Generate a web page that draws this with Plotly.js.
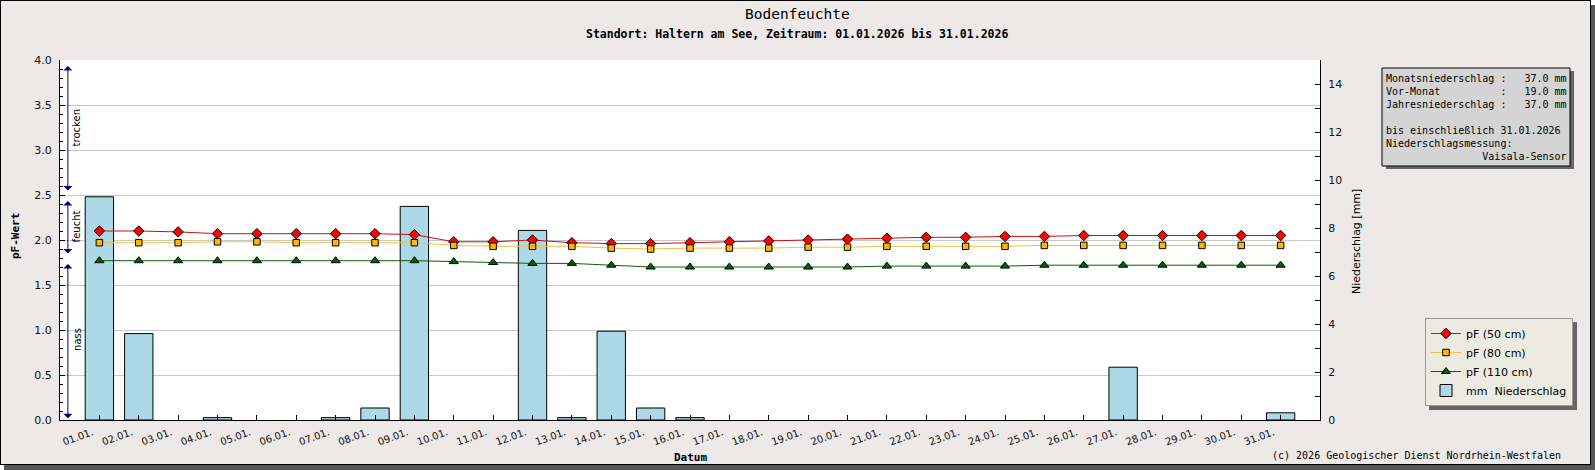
<!DOCTYPE html>
<html>
<head>
<meta charset="utf-8">
<script src="https://cdn.plot.ly/plotly-3.0.1.min.js"></script>
<style>
    body { margin: 0; background: #ffffff; }
    #frame {
        position: absolute; left: 0; top: 0;
        width: 1589px; height: 463px;
        border: 1px solid #000;
        background: #ece9e8;
        box-shadow: 4px 5px 0 #575757;
    }
    #chart { position: absolute; left: 0; top: 0; width: 1595px; height: 470px; }
</style>
</head>
<body>
<div id="frame"></div>
<div id="chart"></div>
<script>
let dateLabels = ['01.01.', '02.01.', '03.01.', '04.01.', '05.01.', '06.01.', '07.01.', '08.01.',
    '09.01.', '10.01.', '11.01.', '12.01.', '13.01.', '14.01.', '15.01.', '16.01.', '17.01.',
    '18.01.', '19.01.', '20.01.', '21.01.', '22.01.', '23.01.', '24.01.', '25.01.', '26.01.',
    '27.01.', '28.01.', '29.01.', '30.01.', '31.01.'];

// pF values per depth
let pf50 = [2.10, 2.10, 2.09, 2.07, 2.07, 2.07, 2.07, 2.07, 2.06, 1.98, 1.98, 2.00, 1.97, 1.96,
    1.96, 1.97, 1.98, 1.99, 2.00, 2.01, 2.02, 2.03, 2.03, 2.04, 2.04, 2.05, 2.05, 2.05, 2.05, 2.05, 2.05];
let pf80 = [1.97, 1.97, 1.97, 1.98, 1.98, 1.97, 1.97, 1.97, 1.97, 1.94, 1.93, 1.93, 1.93, 1.91,
    1.90, 1.91, 1.91, 1.91, 1.92, 1.92, 1.93, 1.93, 1.93, 1.93, 1.94, 1.94, 1.94, 1.94, 1.94, 1.94, 1.94];
let pf110 = [1.77, 1.77, 1.77, 1.77, 1.77, 1.77, 1.77, 1.77, 1.77, 1.76, 1.75, 1.74, 1.74, 1.72,
    1.70, 1.70, 1.70, 1.70, 1.70, 1.70, 1.71, 1.71, 1.71, 1.71, 1.72, 1.72, 1.72, 1.72, 1.72, 1.72, 1.72];

// daily precipitation in mm
let precip = [9.3, 3.6, 0, 0.1, 0, 0, 0.1, 0.5, 8.9, 0, 0, 7.9, 0.1, 3.7, 0.5, 0.1, 0, 0, 0, 0,
    0, 0, 0, 0, 0, 0, 2.2, 0, 0, 0, 0.3];

// moisture zones on the pF axis
let zoneLabels = ['nass', 'feucht', 'trocken'];
let zoneBounds = [0, 1.8, 2.5, 4.0];

let infoLines = [
    'Monatsniederschlag :   37.0 mm',
    'Vor-Monat          :   19.0 mm',
    'Jahresniederschlag :   37.0 mm',
    '',
    'bis einschließlich 31.01.2026',
    'Niederschlagsmessung:',
    '                Vaisala-Sensor'
];

let mono = 'DejaVu Sans Mono, Liberation Mono, monospace';
let sans = 'DejaVu Sans, sans-serif';

// plot area in page pixels, used to place things outside it
let plotL = 60, plotR = 1320, plotT = 60, plotB = 420;

function px(x) {
    return (x - plotL) / (plotR - plotL);
}

function py(y) {
    return (plotB - y) / (plotB - plotT);
}

function nbsp(s) {
    return s.replace(/ /g, '\u00a0');
}

let data = [
    {
        x: dateLabels, y: pf50, yaxis: 'y2', type: 'scatter', mode: 'lines+markers',
        name: 'pF (50 cm)',
        line: { color: '#cc1010', width: 1 },
        marker: { symbol: 'diamond', size: 8, color: '#ff0000', line: { color: '#000', width: 1 } }
    },
    {
        x: dateLabels, y: pf80, yaxis: 'y2', type: 'scatter', mode: 'lines+markers',
        name: 'pF (80 cm)',
        line: { color: '#f0c040', width: 1 },
        marker: { symbol: 'square', size: 6.5, color: '#ffb600', line: { color: '#000', width: 1 } }
    },
    {
        x: dateLabels, y: pf110, yaxis: 'y2', type: 'scatter', mode: 'lines+markers',
        name: 'pF (110 cm)',
        line: { color: '#0b5e0b', width: 1 },
        marker: { symbol: 'triangle-up', size: 8, color: '#006400', line: { color: '#000', width: 1 } }
    },
    {
        x: dateLabels, y: precip, yaxis: 'y', type: 'bar', width: 0.72,
        name: nbsp('mm  Niederschlag'),
        marker: {
            color: '#add8e6',
            line: { color: '#000', width: precip.map(v => v > 0 ? 1 : 0) }
        }
    }
];

let annotations = [
    { text: 'Bodenfeuchte', xref: 'paper', yref: 'paper', x: px(797), y: py(14),
        xanchor: 'center', yanchor: 'middle',
        showarrow: false, font: { family: mono, size: 14.5, color: '#000' } },
    { text: '<b>Standort: Haltern am See, Zeitraum: 01.01.2026 bis 31.01.2026</b>',
        xref: 'paper', yref: 'paper', x: px(797), y: py(34), xanchor: 'center', yanchor: 'middle',
        showarrow: false, font: { family: mono, size: 11.5, color: '#000' } },
    { text: '<b>pF-Wert</b>', xref: 'paper', yref: 'paper', x: px(15), y: py(236), textangle: -90,
        xanchor: 'center', yanchor: 'middle',
        showarrow: false, font: { family: mono, size: 11, color: '#000' } },
    { text: 'Niederschlag [mm]', xref: 'paper', yref: 'paper', x: px(1356), y: py(241), textangle: -90,
        xanchor: 'center', yanchor: 'middle',
        showarrow: false, font: { family: sans, size: 11, color: '#000' } },
    { text: '<b>Datum</b>', xref: 'paper', yref: 'paper', x: px(690), y: py(457),
        xanchor: 'center', yanchor: 'middle',
        showarrow: false, font: { family: mono, size: 11, color: '#000' } },
    { text: '(c) 2026 Geologischer Dienst Nordrhein-Westfalen', xref: 'paper', yref: 'paper',
        x: px(1563), y: py(455), xanchor: 'right', yanchor: 'middle', showarrow: false,
        font: { family: mono, size: 10, color: '#000' } },
    { text: infoLines.map(nbsp).join('<br>'), xref: 'paper', yref: 'paper',
        x: px(1385), y: py(72), xanchor: 'left', yanchor: 'top', align: 'left', borderpad: 0,
        showarrow: false, font: { family: mono, size: 10, color: '#000' } }
];

// zone arrows and labels beside the pF axis
for (let i = 0; i < zoneLabels.length; i++) {
    let lo = zoneBounds[i];
    let hi = zoneBounds[i + 1];

    annotations.push({
        text: '', x: -0.8, y: lo + (i === 0 ? 0.02 : 0.05), ax: -0.8, ay: hi - 0.05,
        xref: 'x', yref: 'y2', axref: 'x', ayref: 'y2',
        showarrow: true, arrowside: 'end+start', arrowhead: 1, startarrowhead: 1,
        arrowsize: 1.5, startarrowsize: 1.5, arrowwidth: 1, arrowcolor: '#000080',
        standoff: 0, startstandoff: 0
    });
    annotations.push({
        text: zoneLabels[i], x: -0.8, xshift: 9, y: (lo + hi) / 2, xref: 'x', yref: 'y2',
        xanchor: 'center', yanchor: 'middle',
        textangle: -90, showarrow: false, font: { family: sans, size: 10, color: '#000' }
    });
}

let shapes = [
    // info box with shadow
    { type: 'rect', xref: 'paper', yref: 'paper', x0: px(1386), x1: px(1574), y0: py(71), y1: py(169),
        fillcolor: '#666', line: { width: 0 }, layer: 'below' },
    { type: 'rect', xref: 'paper', yref: 'paper', x0: px(1382), x1: px(1570), y0: py(68), y1: py(166),
        fillcolor: '#d4d4d4', line: { color: '#000', width: 1 }, layer: 'below' },
    // legend shadow
    { type: 'rect', xref: 'paper', yref: 'paper', x0: px(1429), x1: px(1577), y0: py(322), y1: py(410),
        fillcolor: '#666', line: { width: 0 }, layer: 'below' }
];

let layout = {
    width: 1595,
    height: 470,
    margin: { l: plotL, r: 1595 - plotR, t: plotT, b: 470 - plotB, pad: 0 },
    paper_bgcolor: 'rgba(0,0,0,0)',
    plot_bgcolor: '#ffffff',
    showlegend: true,
    bargap: 0,
    xaxis: {
        type: 'category',
        range: [-1, 31],
        ticks: 'inside', ticklen: 5, tickcolor: '#000',
        showline: true, linecolor: '#000', linewidth: 1,
        showgrid: false, zeroline: false,
        tickangle: -20,
        ticklabelshift: -7,
        ticklabelstandoff: 2,
        tickfont: { family: sans, size: 10, color: '#111' }
    },
    yaxis: {
        side: 'right',
        range: [0, 15],
        tickmode: 'linear', tick0: 0, dtick: 2,
        ticks: 'inside', ticklen: 5, tickcolor: '#000',
        minor: { dtick: 1, ticks: 'inside', ticklen: 5, tickcolor: '#000', showgrid: false },
        showline: true, linecolor: '#000', linewidth: 1,
        showgrid: false, zeroline: false,
        ticklabelstandoff: 5,
        tickfont: { family: sans, size: 11, color: '#111' }
    },
    yaxis2: {
        side: 'left',
        overlaying: 'y',
        range: [0, 4],
        tickmode: 'linear', tick0: 0, dtick: 0.5, tickformat: '.1f',
        ticks: 'inside', ticklen: 5, tickcolor: '#000',
        minor: { dtick: 0.1, ticks: 'inside', ticklen: 3, tickcolor: '#000', showgrid: false },
        showline: true, linecolor: '#000', linewidth: 1,
        showgrid: true, gridcolor: '#c8c8c8', zeroline: false,
        ticklabelstandoff: 5,
        tickfont: { family: sans, size: 11, color: '#111' }
    },
    legend: {
        x: px(1425), y: py(318), xanchor: 'left', yanchor: 'top',
        bgcolor: '#ecebe1', bordercolor: '#999', borderwidth: 1,
        font: { family: sans, size: 11, color: '#000' },
        itemwidth: 30, tracegroupgap: 0
    },
    annotations: annotations,
    shapes: shapes
};

Plotly.newPlot('chart', data, layout, { displayModeBar: false, staticPlot: true });
</script>
</body>
</html>
